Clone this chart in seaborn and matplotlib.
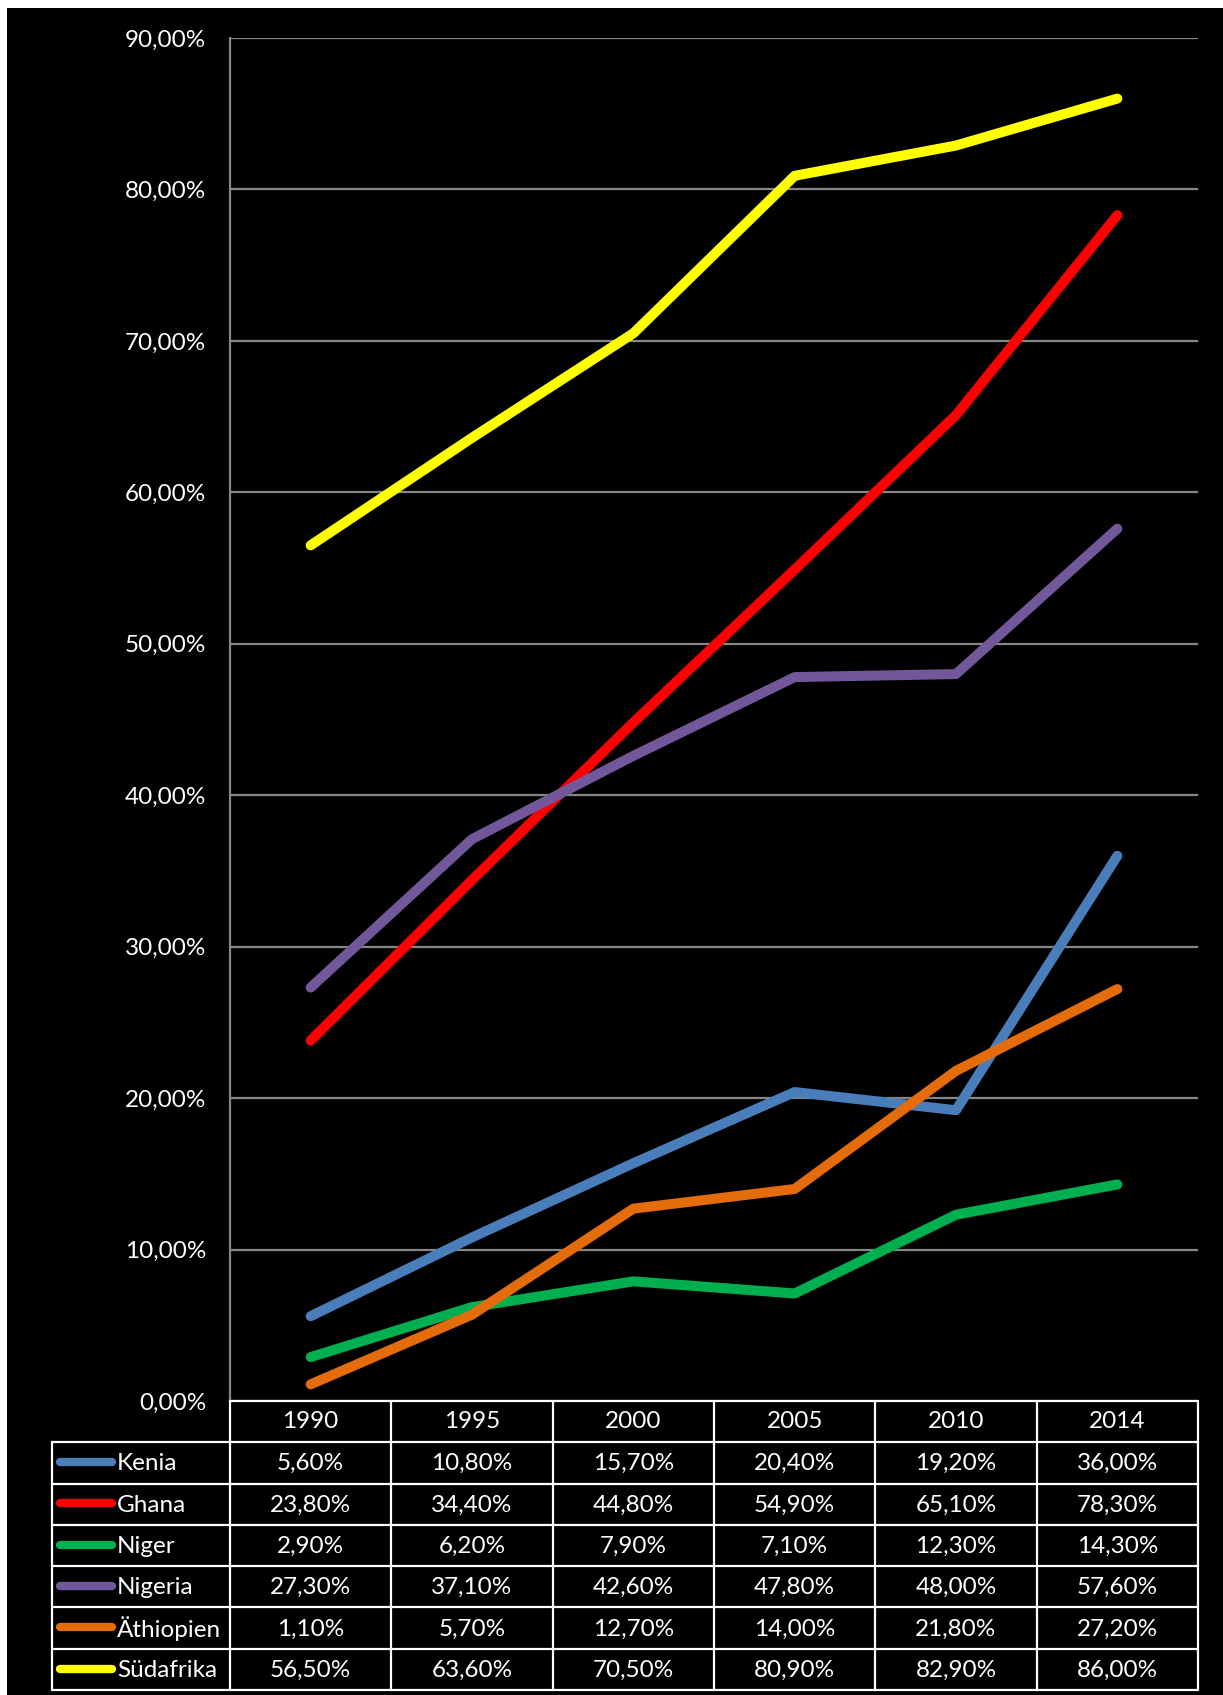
import numpy as np
import pandas as pd
import matplotlib
matplotlib.use("Agg")
import matplotlib.pyplot as plt
import seaborn as sns
from matplotlib.patches import Rectangle

# ---------------- data ----------------
years = ["1990", "1995", "2000", "2005", "2010", "2014"]
countries = ["Kenia", "Ghana", "Niger", "Nigeria", "Äthiopien", "Südafrika"]
kenia = [5.6, 10.8, 15.7, 20.4, 19.2, 36.0]
ghana = [23.8, 34.4, 44.8, 54.9, 65.1, 78.3]
niger = [2.9, 6.2, 7.9, 7.1, 12.3, 14.3]
nigeria = [27.3, 37.1, 42.6, 47.8, 48.0, 57.6]
aethiopien = [1.1, 5.7, 12.7, 14.0, 21.8, 27.2]
suedafrika = [56.5, 63.6, 70.5, 80.9, 82.9, 86.0]
colors = ["#4A7EBB", "#FF0000", "#00B050", "#72589A", "#E46C0A", "#FFFF00"]
yticks = [0, 10, 20, 30, 40, 50, 60, 70, 80, 90]

series = [kenia, ghana, niger, nigeria, aethiopien, suedafrika]
rows = []
for c, vals in zip(countries, series):
    for y, v in zip(years, vals):
        rows.append({"Jahr": y, "Land": c, "Wert": v})
df = pd.DataFrame(rows)

def fmt(v):
    return f"{v:.2f}".replace(".", ",") + "%"

# ---------------- style ----------------
sns.set_theme(style="white")
plt.rcParams["font.family"] = ["Lato", "DejaVu Sans"]

W, H = 1223, 1695
fig = plt.figure(figsize=(W / 100, H / 100), dpi=100, facecolor="white")
# black panel (white border at top/left)
fig.patches.append(Rectangle((7 / W, 0), 1 - 7 / W, 1 - 8 / H, transform=fig.transFigure,
                             facecolor="black", edgecolor="none", zorder=-10))

px_l, px_r, px_t, px_b = 230, 1198, 38, 1401
ax = fig.add_axes([px_l / W, (H - px_b) / H, (px_r - px_l) / W, (px_b - px_t) / H])
ax.set_facecolor("black")

sns.lineplot(data=df, x="Jahr", y="Wert", hue="Land", hue_order=countries,
             palette=colors, linewidth=7.2, legend=False, ax=ax,
             solid_capstyle="round", solid_joinstyle="round", zorder=3)

ax.set_xlim(-0.5, len(years) - 0.5)
ax.set_ylim(0, 90)
ax.set_yticks(yticks)
ax.set_yticklabels([fmt(t) for t in yticks])
ax.set_xticks([])
ax.set_xlabel("")
ax.set_ylabel("")
ax.tick_params(axis="y", length=0, pad=17, labelcolor="white", labelsize=17.5)
ax.yaxis.grid(True, color="#868686", linewidth=1.6, zorder=1)
ax.set_axisbelow(True)
for s in ["top", "right", "bottom"]:
    ax.spines[s].set_visible(False)
ax.spines["left"].set_color("#868686")
ax.spines["left"].set_linewidth(1.6)

# ---------------- data table ----------------
unit = (px_r - px_l) / len(years)          # pixels per column
tbl_l, tbl_b = 52, 1690
x_left = -0.5 - (px_l - tbl_l) / unit
tax = fig.add_axes([tbl_l / W, (H - tbl_b) / H, (px_r - tbl_l) / W, (tbl_b - px_b) / H])
tax.set_xlim(x_left, len(years) - 0.5)
nrows = len(countries) + 1
tax.set_ylim(nrows, 0)
tax.axis("off")
tax.patch.set_alpha(0)

lc, lw = "white", 1.6
tax.plot([-0.5, len(years) - 0.5], [0, 0], color=lc, lw=lw, clip_on=False)
for r in range(1, nrows + 1):
    tax.plot([x_left, len(years) - 0.5], [r, r], color=lc, lw=lw, clip_on=False)
for k in range(len(years) + 1):
    tax.plot([-0.5 + k, -0.5 + k], [0, nrows], color=lc, lw=lw, clip_on=False)
tax.plot([x_left, x_left], [1, nrows], color=lc, lw=lw, clip_on=False)

fs = 17.5
for i, y in enumerate(years):
    tax.text(i, 0.5, y, color="white", fontsize=fs, ha="center", va="center")
for r, (c, vals, col) in enumerate(zip(countries, series, colors), start=1):
    for i, v in enumerate(vals):
        tax.text(i, r + 0.52, fmt(v), color="white", fontsize=fs, ha="center", va="center")
    x0 = x_left + 8 / unit
    x1 = x_left + 60 / unit
    tax.plot([x0, x1], [r + 0.48, r + 0.48], color=col, lw=6, solid_capstyle="round",
             clip_on=False)
    tax.text(x_left + 65 / unit, r + 0.52, c, color="white", fontsize=fs,
             ha="left", va="center")

fig.savefig("out.png", dpi=100, facecolor=fig.get_facecolor())
